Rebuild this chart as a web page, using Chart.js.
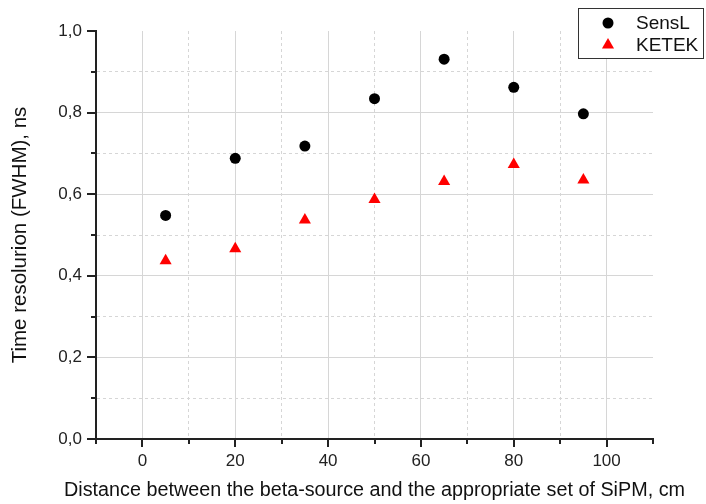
<!DOCTYPE html>
<html>
<head>
<meta charset="utf-8">
<script src="https://cdn.jsdelivr.net/npm/chart.js@4/dist/chart.umd.min.js"></script>
<style>
  html, body { margin: 0; padding: 0; background: #ffffff; }
  #wrap { width: 706px; height: 504px; position: relative; }
</style>
</head>
<body>
<div id="wrap"><canvas id="c" width="706" height="504"></canvas></div>
<script>
// Distance from the beta-source to the SiPM set, cm
const distance = [5, 20, 35, 50, 65, 80, 95];
// Time resolution (FWHM), ns
const sensL = [0.548, 0.688, 0.718, 0.834, 0.931, 0.862, 0.797];
const ketek = [0.437, 0.466, 0.537, 0.587, 0.631, 0.673, 0.635];

const seriesNames = ['SensL', 'KETEK'];
const xTickLabels = [0, 20, 40, 60, 80, 100];
const yTickLabels = ['0,0', '0,2', '0,4', '0,6', '0,8', '1,0'];
const xTitle = 'Distance between the beta-source and the appropriate set of SiPM, cm';
const yTitle = 'Time resolurion (FWHM), ns';

const FONT = "'Liberation Sans', Arial, sans-serif";
const AXIS_COLOR = '#222222';
const GRID_COLOR = '#d6d6d6';

const toPoints = (xs, ys) => xs.map((x, i) => ({ x: x, y: ys[i] }));

// Major / minor classification of tick values
const isMajorX = v => Math.round(v) % 20 === 0;
const isMajorY = v => Math.round(v * 10) % 2 === 0;

// Tick marks drawn outward from the axes, long for major and short for minor ticks
const tickMarks = {
  id: 'tickMarks',
  afterDraw(chart) {
    const ctx = chart.ctx;
    const xs = chart.scales.x, ys = chart.scales.y;
    const area = chart.chartArea;
    ctx.save();
    ctx.strokeStyle = AXIS_COLOR;
    ctx.lineWidth = 2;
    ys.ticks.forEach(t => {
      const py = Math.round(ys.getPixelForValue(t.value));
      const len = isMajorY(t.value) ? 9 : 5;
      ctx.beginPath();
      ctx.moveTo(area.left, py);
      ctx.lineTo(area.left - len, py);
      ctx.stroke();
    });
    xs.ticks.forEach(t => {
      const px = Math.round(xs.getPixelForValue(t.value));
      const len = isMajorX(t.value) ? 8 : 5;
      ctx.beginPath();
      ctx.moveTo(px, area.bottom);
      ctx.lineTo(px, area.bottom + len);
      ctx.stroke();
    });
    ctx.restore();
  }
};

// X axis title, drawn a little wide, centred under the plot area
const xAxisTitle = {
  id: 'xAxisTitle',
  afterDraw(chart) {
    const ctx = chart.ctx;
    const area = chart.chartArea;
    const targetWidth = 621;
    ctx.save();
    ctx.fillStyle = '#111111';
    ctx.font = '20px ' + FONT;
    ctx.textAlign = 'center';
    ctx.textBaseline = 'middle';
    const w = ctx.measureText(xTitle).width;
    ctx.translate((area.left + area.right) / 2, 490);
    ctx.scale(targetWidth / w, 1);
    ctx.fillText(xTitle, 0, 0);
    ctx.restore();
  }
};

// Boxed legend in the upper right corner
const boxLegend = {
  id: 'boxLegend',
  afterDraw(chart) {
    const ctx = chart.ctx;
    const box = { x: 578.5, y: 8.5, w: 125, h: 50 };
    ctx.save();
    ctx.fillStyle = '#ffffff';
    ctx.fillRect(box.x, box.y, box.w, box.h);
    ctx.strokeStyle = '#333333';
    ctx.lineWidth = 1;
    ctx.strokeRect(box.x, box.y, box.w, box.h);
    chart.data.datasets.forEach((ds, i) => {
      const cy = 23 + i * 22;
      ctx.fillStyle = ds.backgroundColor;
      ctx.strokeStyle = ds.backgroundColor;
      Chart.helpers.drawPoint(ctx, {
        pointStyle: ds.pointStyle,
        radius: ds.pointRadius,
        rotation: 0,
        borderWidth: 0
      }, 608, cy);
      ctx.fillStyle = '#111111';
      ctx.font = '19px ' + FONT;
      ctx.textAlign = 'left';
      ctx.textBaseline = 'middle';
      ctx.fillText(ds.label, 636, cy + 1);
    });
    ctx.restore();
  }
};

new Chart(document.getElementById('c'), {
  type: 'scatter',
  data: {
    datasets: [
      {
        label: seriesNames[0],
        data: toPoints(distance, sensL),
        pointStyle: 'circle',
        pointRadius: 5.5,
        pointHoverRadius: 5.5,
        backgroundColor: '#000000',
        borderColor: '#000000',
        borderWidth: 0
      },
      {
        label: seriesNames[1],
        data: toPoints(distance, ketek),
        pointStyle: 'triangle',
        pointRadius: 7,
        pointHoverRadius: 7,
        backgroundColor: '#ff0000',
        borderColor: '#ff0000',
        borderWidth: 0
      }
    ]
  },
  options: {
    responsive: false,
    animation: false,
    devicePixelRatio: 1,
    layout: { padding: { left: 0, top: 31, right: 53, bottom: 0 } },
    plugins: {
      legend: { display: false },
      tooltip: { enabled: false }
    },
    scales: {
      x: {
        type: 'linear',
        min: -10,
        max: 110,
        afterFit(scale) { scale.height = 65; },
        ticks: {
          stepSize: 10,
          autoSkip: false,
          maxRotation: 0,
          padding: 4,
          color: AXIS_COLOR,
          font: { family: FONT, size: 17 },
          callback: v => xTickLabels.includes(Math.round(v)) ? String(Math.round(v)) : ''
        },
        grid: {
          drawTicks: true,
          tickLength: 8,
          tickColor: 'rgba(0,0,0,0)',
          lineWidth: 1,
          color: c => (c.tick && (c.tick.value <= -10 || c.tick.value >= 110)) ? 'rgba(0,0,0,0)' : GRID_COLOR
        },
        border: {
          display: true,
          color: AXIS_COLOR,
          width: 2,
          dash: c => (c.tick && !isMajorX(c.tick.value)) ? [3, 3] : []
        },
        title: { display: false }
      },
      y: {
        type: 'linear',
        min: 0,
        max: 1,
        afterFit(scale) { scale.width = 96; },
        ticks: {
          stepSize: 0.1,
          autoSkip: false,
          padding: 5,
          color: AXIS_COLOR,
          font: { family: FONT, size: 17 },
          callback: v => isMajorY(v) ? yTickLabels[Math.round(v * 5)] : ''
        },
        grid: {
          drawTicks: true,
          tickLength: 9,
          tickColor: 'rgba(0,0,0,0)',
          lineWidth: 1,
          color: c => (c.tick && (c.tick.value <= 0.001 || c.tick.value >= 0.999)) ? 'rgba(0,0,0,0)' : GRID_COLOR
        },
        border: {
          display: true,
          color: AXIS_COLOR,
          width: 2,
          dash: c => (c.tick && !isMajorY(c.tick.value)) ? [3, 3] : []
        },
        title: {
          display: true,
          text: yTitle,
          color: '#111111',
          font: { family: FONT, size: 20.5 },
          padding: { top: 8, bottom: 0 }
        }
      }
    }
  },
  plugins: [tickMarks, xAxisTitle, boxLegend]
});
</script>
</body>
</html>
